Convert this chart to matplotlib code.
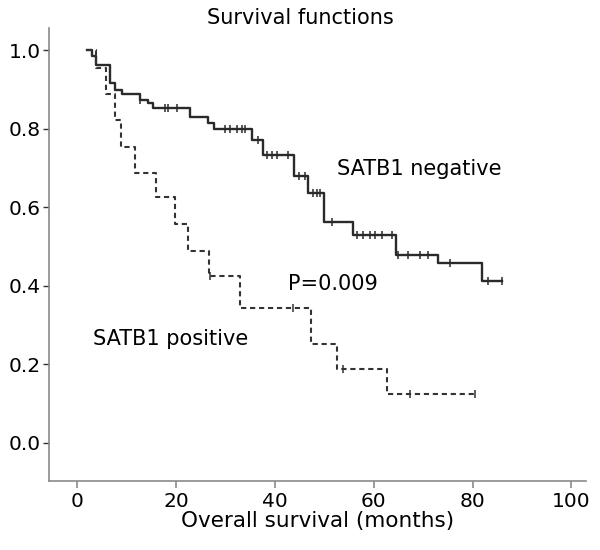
import numpy as np
import matplotlib
matplotlib.use("Agg")
import matplotlib.pyplot as plt

# step points (months, survival after the step)
neg_times = [2.0, 3.0, 3.8, 6.7, 7.7, 9.0, 12.8, 14.4, 15.4, 22.9, 26.5, 27.8,
             35.4, 37.7, 43.8, 46.8, 49.9, 55.9, 64.5, 73.1, 81.9, 86.0]
neg_surv = [1.0, 0.985, 0.962, 0.916, 0.898, 0.888, 0.873, 0.865, 0.852, 0.829, 0.815, 0.799,
            0.771, 0.733, 0.679, 0.635, 0.561, 0.530, 0.478, 0.457, 0.413, 0.413]
neg_censored = [12.8, 17.8, 18.4, 20.2, 30.0, 31.0, 32.4, 33.4, 34.0, 36.7, 38.4, 39.4,
                40.5, 42.7, 45.0, 46.2, 47.8, 48.6, 49.2, 51.6, 56.7, 57.9, 59.3, 60.3,
                61.7, 63.8, 65.0, 67.0, 69.4, 71.0, 75.5, 83.2, 86.0]

pos_times = [2.0, 3.8, 5.8, 7.7, 8.8, 11.7, 15.9, 19.8, 22.5, 26.7, 33.0, 47.3, 52.6, 62.7, 80.6]
pos_surv = [1.0, 0.955, 0.887, 0.822, 0.754, 0.688, 0.627, 0.556, 0.489, 0.425, 0.343,
            0.252, 0.188, 0.124, 0.124]
pos_censored = [26.9, 43.7, 53.9, 67.4, 80.6]

x_ticks = [0, 20, 40, 60, 80, 100]
y_ticks = [0.0, 0.2, 0.4, 0.6, 0.8, 1.0]


def surv_at(times, surv, t):
    idx = np.searchsorted(times, t, side="right") - 1
    return np.array(surv)[idx]


plt.rcParams["font.family"] = "DejaVu Sans"

fig = plt.figure(figsize=(6, 5.5), dpi=100)
ax = fig.add_axes([0.0817, 0.1255, 0.8953, 0.8235])

ax.step(neg_times, neg_surv, where="post", color="#2a2a2a", lw=1.7)
ax.step(pos_times, pos_surv, where="post", color="#333333", lw=1.5,
        linestyle=(0, (2.5, 1.8)))

ax.plot(neg_censored, surv_at(neg_times, neg_surv, neg_censored), "|",
        color="#2a2a2a", ms=5.5, mew=1.1)
ax.plot(pos_censored, surv_at(pos_times, pos_surv, pos_censored), "|",
        color="#333333", ms=5.5, mew=1.1)

ax.text(52.6, 0.682, "SATB1 negative", fontsize=15, va="baseline", ha="left")
ax.text(42.7, 0.389, "P=0.009", fontsize=15, va="baseline", ha="left")
ax.text(3.2, 0.249, "SATB1 positive", fontsize=15, va="baseline", ha="left")

ax.set_xlim(-5.67, 103.0)
ax.set_ylim(-0.097, 1.056)
ax.set_xticks(x_ticks)
ax.set_xticklabels([str(v) for v in x_ticks], fontsize=14.5)
ax.set_yticks(y_ticks)
ax.set_yticklabels([f"{v:.1f}" for v in y_ticks], fontsize=14.5)

for side in ["top", "right"]:
    ax.spines[side].set_visible(False)
for side in ["left", "bottom"]:
    ax.spines[side].set_color("#8a8a8a")
    ax.spines[side].set_linewidth(1.2)
ax.tick_params(axis="y", length=4, width=1.0, color="#333333", pad=2)
ax.tick_params(axis="x", length=5, width=1.2, color="#8a8a8a", pad=3)

ax.set_xlabel("Overall survival (months)", fontsize=15.5, labelpad=0)
# title sits centred on the figure, not the axes
fig.text(0.5, 0.956, "Survival functions", fontsize=15, ha="center", va="baseline")

fig.savefig("out.png", dpi=100)
